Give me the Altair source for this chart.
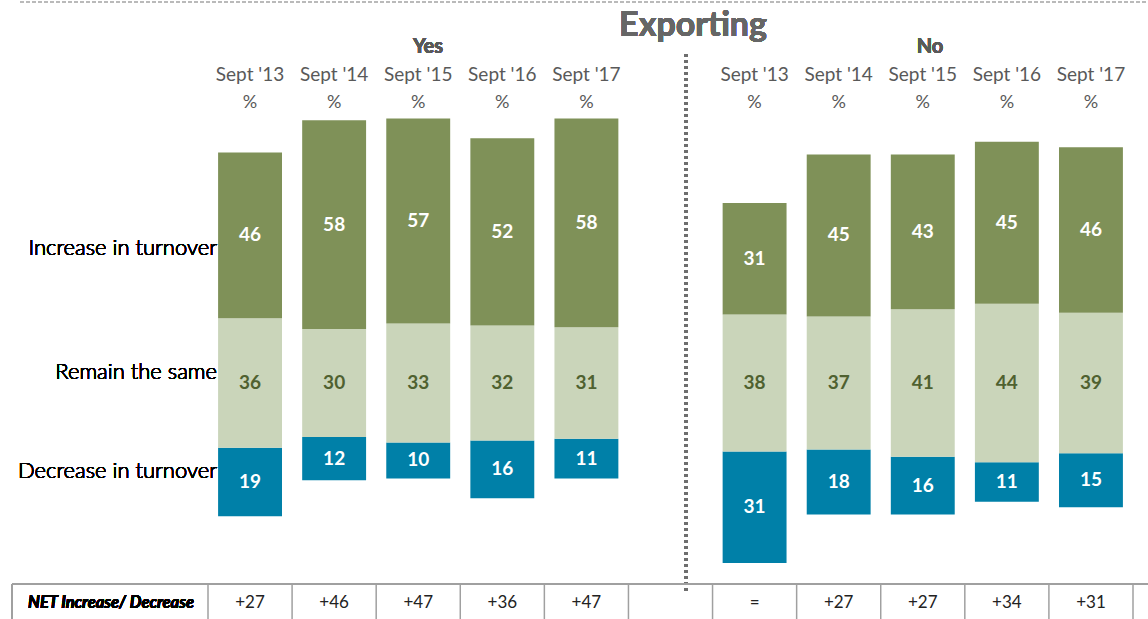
import altair as alt
import pandas as pd

# ---- data ----
waves = ["Sept '13", "Sept '14", "Sept '15", "Sept '16", "Sept '17"]
groups = ["Yes", "No"]

yes_increase = [46, 58, 57, 52, 58]
yes_same = [36, 30, 33, 32, 31]
yes_decrease = [19, 12, 10, 16, 11]

no_increase = [31, 45, 43, 45, 46]
no_same = [38, 37, 41, 44, 39]
no_decrease = [31, 18, 16, 11, 15]

net_yes = ["+27", "+46", "+47", "+36", "+47"]
net_no = ["=", "+27", "+27", "+34", "+31"]

categories = ["Decrease in turnover", "Remain the same", "Increase in turnover"]
colors = ["#0080A8", "#CAD5BA", "#7F9158"]

FONT = "Lato"

# ---- build tables ----
slots = [f"Yes|{w}" for w in waves] + ["gap"] + [f"No|{w}" for w in waves]

rows = []
hdr = []
net = []
for g, inc, same, dec, nets in [("Yes", yes_increase, yes_same, yes_decrease, net_yes),
                                 ("No", no_increase, no_same, no_decrease, net_no)]:
    for w, i, s, d, n in zip(waves, inc, same, dec, nets):
        key = f"{g}|{w}"
        lo = -s / 2
        hi = s / 2
        rows.append(dict(slot=key, cat=categories[0], y0=lo - d, y1=lo, v=d))
        rows.append(dict(slot=key, cat=categories[1], y0=lo, y1=hi, v=s))
        rows.append(dict(slot=key, cat=categories[2], y0=hi, y1=hi + i, v=i))
        hdr.append(dict(slot=key, wave=w, pct="%"))
        net.append(dict(slot=key, net=n))

bars_df = pd.DataFrame(rows)
bars_df["mid"] = (bars_df["y0"] + bars_df["y1"]) / 2
hdr_df = pd.DataFrame(hdr)
net_df = pd.DataFrame(net)
bounds_df = pd.DataFrame({"b": list(range(len(slots) + 1))})

xscale = alt.Scale(domain=slots, range=[208, 1133], paddingInner=0.24, paddingOuter=0.12)
yscale = alt.Scale(domain=[-65.56, 106.39], nice=False, zero=False)
X = alt.X("slot:N", scale=xscale, axis=None)

bars = alt.Chart(bars_df).mark_bar().encode(
    x=X,
    y=alt.Y("y0:Q", scale=yscale, axis=None),
    y2="y1:Q",
    color=alt.Color("cat:N", scale=alt.Scale(domain=categories, range=colors), legend=None),
)

seg_labels = alt.Chart(bars_df).mark_text(font=FONT, fontSize=19, fontWeight="bold").encode(
    x=X,
    y=alt.Y("mid:Q", scale=yscale, axis=None),
    text="v:Q",
    color=alt.condition(alt.datum.cat == "Remain the same", alt.value("#4F6130"), alt.value("white")),
)

wave_hdr = alt.Chart(hdr_df).mark_text(font=FONT, fontSize=19, color="#595959").encode(
    x=X, y=alt.value(75), text="wave:N")
pct_hdr = alt.Chart(hdr_df).mark_text(font=FONT, fontSize=18, color="#595959").encode(
    x=X, y=alt.value(103), text="pct:N")

net_text = alt.Chart(net_df).mark_text(font=FONT, fontSize=17, color="#222222").encode(
    x=X, y=alt.value(603), text="net:N")

table_v = alt.Chart(bounds_df).mark_rule(color="#A0A0A0", strokeWidth=1.5).encode(
    x=alt.X("b:Q", scale=alt.Scale(domain=[0, len(slots)], range=[208, 1133], nice=False, zero=False), axis=None),
    y=alt.value(584), y2=alt.value(619))

table_left = alt.Chart(bounds_df).mark_rule(color="#A0A0A0", strokeWidth=1.5).encode(
    x=alt.value(12), y=alt.value(584), y2=alt.value(619))
table_top = alt.Chart(bounds_df).mark_rule(color="#A0A0A0", strokeWidth=1.5).encode(
    x=alt.value(12), x2=alt.value(1148), y=alt.value(584))
net_label = alt.Chart(bounds_df).mark_text(font=FONT, fontSize=16.5, fontWeight="bold", fontStyle="italic",
                                           color="black").encode(
    x=alt.value(111), y=alt.value(603), text=alt.value("NET Increase/ Decrease"))

top_dash = alt.Chart(bounds_df).mark_rule(color="#BBBBBB", strokeWidth=1.5, strokeDash=[4, 2]).encode(
    x=alt.value(20), x2=alt.value(1148), y=alt.value(2))
divider = alt.Chart(bounds_df).mark_rule(color="#6E6E6E", strokeWidth=3, strokeDash=[3, 3]).encode(
    x=alt.value(686), y=alt.value(54), y2=alt.value(592))

title = alt.Chart(bounds_df).mark_text(font=FONT, fontSize=34, fontWeight="bold", color="#666666").encode(
    x=alt.value(693), y=alt.value(26), text=alt.value("Exporting"))
yes_t = alt.Chart(bounds_df).mark_text(font=FONT, fontSize=20, fontWeight="bold", color="#595959").encode(
    x=alt.value(428), y=alt.value(47), text=alt.value(groups[0]))
no_t = alt.Chart(bounds_df).mark_text(font=FONT, fontSize=20, fontWeight="bold", color="#595959").encode(
    x=alt.value(930), y=alt.value(47), text=alt.value(groups[1]))

left_labels = []
for lab, ypx in zip(categories, [471, 372, 248]):
    left_labels.append(
        alt.Chart(bounds_df).mark_text(font=FONT, fontSize=22, fontWeight=300, align="right", color="black").encode(
            x=alt.value(217), y=alt.value(ypx), text=alt.value(lab)))

chart = alt.layer(
    top_dash, divider, bars, seg_labels, wave_hdr, pct_hdr,
    table_top, table_left, table_v, net_label, net_text,
    title, yes_t, no_t, *left_labels,
).resolve_scale(x="independent").properties(
    width=1148, height=619, autosize=alt.AutoSizeParams(type="none"), padding=0,
    background="white",
).configure_view(stroke=None)

chart.save("out.html", embed_options={"renderer": "svg", "actions": False})
